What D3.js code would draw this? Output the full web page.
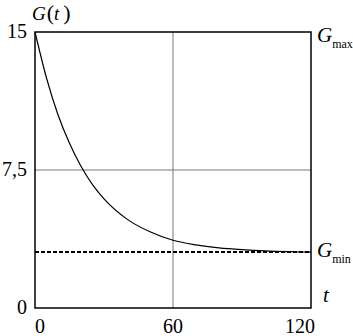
<!DOCTYPE html>
<html><head><meta charset="utf-8">
<script src="https://cdn.jsdelivr.net/npm/d3@7"></script>
<style>body{margin:0;background:#fff}svg{display:block}</style>
</head><body><svg id="c" width="353" height="336" font-family="'Liberation Serif', 'DejaVu Serif', serif"></svg>
<script>
const tValues = [0, 5, 10, 15, 20, 25, 30, 40, 50, 60, 70, 80, 90, 100, 110, 120];
const gValues = [15, 12.5, 10.5, 8.95, 7.7, 6.7, 5.93, 4.83, 4.14, 3.68, 3.43, 3.27, 3.17, 3.1, 3.06, 3.04];
const gMin = 3.05;
const xTicks = [0, 60, 120];
const yTicks = [0, 7.5, 15];
const yTickLabels = ["0", "7,5", "15"];

const svg = d3.select("#c");
const L = 35, R = 311, T = 32, B = 308;
const x = d3.scaleLinear().domain([0, 120]).range([L, R]);
const y = d3.scaleLinear().domain([0, 15]).range([B, T]);

// grid
svg.append("line").attr("x1", x(60)).attr("x2", x(60)).attr("y1", T).attr("y2", B).attr("stroke", "#777").attr("stroke-width", 1);
svg.append("line").attr("x1", L).attr("x2", R).attr("y1", y(7.5)).attr("y2", y(7.5)).attr("stroke", "#777").attr("stroke-width", 1);

// Gmin dashed
svg.append("line").attr("x1", L).attr("x2", R).attr("y1", y(gMin)).attr("y2", y(gMin))
  .attr("stroke", "#000").attr("stroke-width", 2).attr("stroke-dasharray", "4,2");

// curve
const line = d3.line().x((d, i) => x(tValues[i])).y(d => y(d)).curve(d3.curveMonotoneX);
svg.append("path").datum(gValues).attr("d", line).attr("fill", "none").attr("stroke", "#000").attr("stroke-width", 1.2);

// frame
svg.append("rect").attr("x", L).attr("y", T).attr("width", R - L).attr("height", B - T)
  .attr("fill", "none").attr("stroke", "#000").attr("stroke-width", 1.5);

// y tick labels
yTicks.forEach((v, i) => {
  svg.append("text").attr("x", 27).attr("y", y(v) + 6).attr("text-anchor", "end")
    .attr("font-size", 20).text(yTickLabels[i]);
});
// x tick labels
const xAnchors = ["start", "middle", "end"];
const xOff = [0, 0, 4];
xTicks.forEach((v, i) => {
  svg.append("text").attr("x", x(v) + xOff[i]).attr("y", 333).attr("text-anchor", xAnchors[i])
    .attr("font-size", 20).text(v);
});

// G(t) label
const gt = svg.append("text").attr("x", 32).attr("y", 20);
gt.append("tspan").attr("font-style", "italic").attr("font-size", 19).text("G");
gt.append("tspan").attr("font-size", 22).attr("dx", 1).text("(");
gt.append("tspan").attr("font-style", "italic").attr("font-size", 19).text("t");
gt.append("tspan").attr("font-size", 22).attr("dx", 4).text(")");

// Gmax
const gmx = svg.append("text").attr("x", 317).attr("y", 42);
gmx.append("tspan").attr("font-style", "italic").attr("font-size", 21).text("G");
gmx.append("tspan").attr("font-size", 12).attr("dy", 6).text("max");

// Gmin
const gmn = svg.append("text").attr("x", 317).attr("y", 257);
gmn.append("tspan").attr("font-style", "italic").attr("font-size", 21).text("G");
gmn.append("tspan").attr("font-size", 12).attr("dy", 6).text("min");

// t
svg.append("text").attr("x", 323).attr("y", 302).attr("font-style", "italic").attr("font-size", 21).text("t");
</script></body></html>
